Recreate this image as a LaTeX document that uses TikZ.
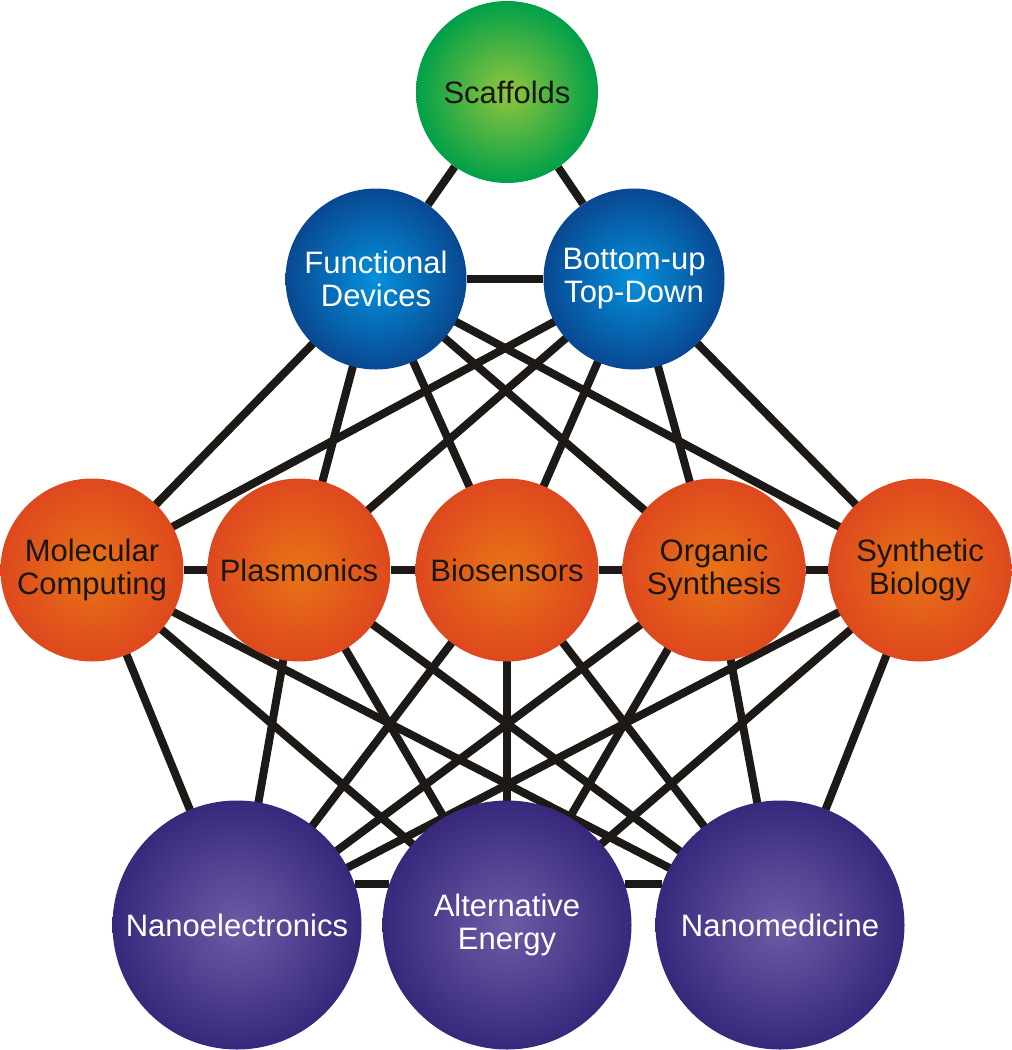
\documentclass[tikz,border=0pt]{standalone}
\usepackage{fontspec}
\setmainfont{Liberation Sans}
\definecolor{linec}{RGB}{28,25,22}
\definecolor{greenin}{RGB}{146,198,62}
\definecolor{greenout}{RGB}{0,160,72}
\definecolor{bluein}{RGB}{5,145,220}
\definecolor{blueout}{RGB}{8,72,145}
\definecolor{orangein}{RGB}{232,116,22}
\definecolor{orangeout}{RGB}{222,72,30}
\definecolor{purplein}{RGB}{108,92,165}
\definecolor{purpleout}{RGB}{56,40,124}
\definecolor{darktext}{RGB}{25,22,20}
\pgfdeclarelayer{bg}
\pgfsetlayers{bg,main}
\tikzset{
  ball/.style={circle, inner sep=0pt, align=center, font=\fontsize{31}{33}\selectfont},
  greenball/.style={ball, minimum size=182pt, inner color=greenin, outer color=greenout, text=darktext},
  blueball/.style={ball, minimum size=181pt, inner color=bluein, outer color=blueout, text=white},
  orangeball/.style={ball, minimum size=183pt, inner color=orangein, outer color=orangeout, text=darktext},
  purpleball/.style={ball, minimum size=249pt, inner color=purplein, outer color=purpleout, text=white},
  link/.style={draw=linec, line width=8pt}
}
\begin{document}
\begin{tikzpicture}[x=1pt,y=-1pt]
\useasboundingbox (0,0) rectangle (1012,1050);
\node[greenball] (sc) at (507,92) {Scaffolds};
\node[blueball] (fd) at (376,279) {Functional\\Devices};
\node[blueball] (bu) at (634,279) {Bottom-up\\Top-Down};
\node[orangeball] (mc) at (92,570) {Molecular\\Computing};
\node[orangeball] (pl) at (299,570) {Plasmonics};
\node[orangeball] (bio) at (507,570) {Biosensors};
\node[orangeball] (os) at (714,570) {Organic\\Synthesis};
\node[orangeball] (sb) at (920,570) {Synthetic\\Biology};
\node[purpleball] (ne) at (237,925) {Nanoelectronics};
\node[purpleball] (ae) at (507,925) {Alternative\\Energy};
\node[purpleball] (nm) at (780,925) {Nanomedicine};
\begin{pgfonlayer}{bg}
\draw[link] (sc) -- (fd);
\draw[link] (sc) -- (bu);
\draw[link] (fd) -- (bu);
\foreach \a in {fd,bu}{
  \foreach \b in {mc,pl,bio,os,sb}{
    \draw[link] (\a.center) -- (\b.center);
  }
}
\draw[link] (mc) -- (pl);
\draw[link] (pl) -- (bio);
\draw[link] (bio) -- (os);
\draw[link] (os) -- (sb);
\foreach \a in {mc,pl,bio,os,sb}{
  \foreach \b in {ne,ae,nm}{
    \draw[link] (\a.center) -- (\b.center);
  }
}
\draw[link] (ne.19) -- (ae.161);
\draw[link] (ae.19) -- (nm.161);
\end{pgfonlayer}
\end{tikzpicture}
\end{document}
